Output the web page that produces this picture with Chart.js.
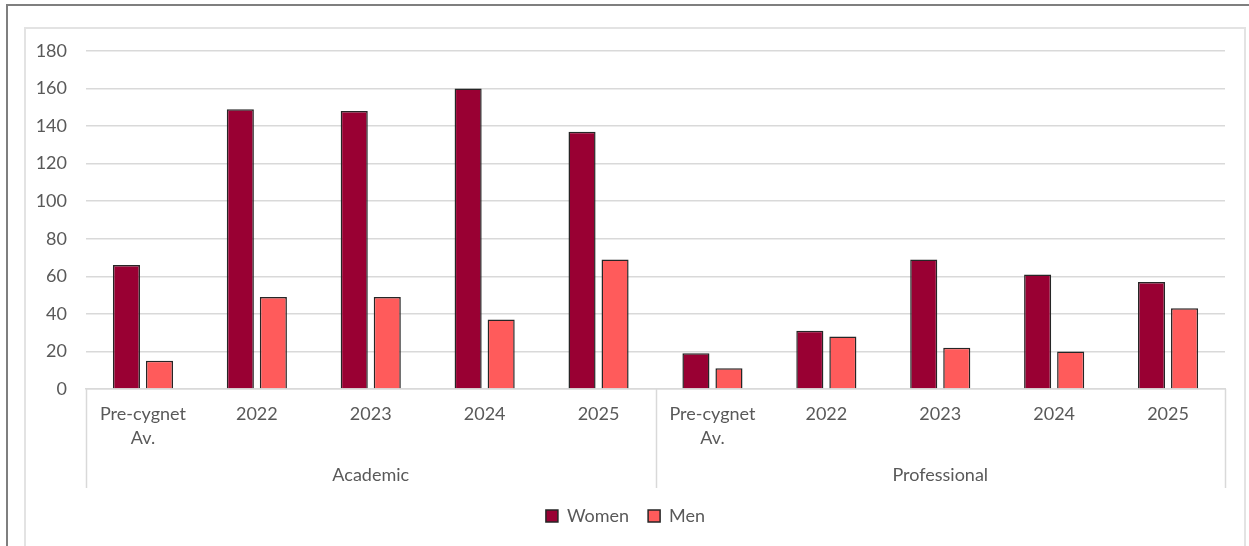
<!DOCTYPE html>
<html>
<head>
<meta charset="utf-8">
<script src="https://cdn.jsdelivr.net/npm/chart.js@4"></script>
<style>
  html, body { margin: 0; padding: 0; background: #fff; }
  body { width: 1249px; height: 546px; overflow: hidden; position: relative; }
  .frame { position: absolute; left: 6px; top: 4px; right: -10px; bottom: -10px;
    border-left: 2px solid #7f7f7f; border-top: 2px solid #7f7f7f; }
  .box { position: absolute; left: 24px; top: 27px; width: 1222px; height: 530px;
    border: 2px solid #e3e3e3; box-sizing: border-box; }
  .wrap { position: absolute; left: 26px; top: 29px; width: 1220px; height: 517px; }
</style>
</head>
<body>
<div class="frame"></div>
<div class="box"></div>
<div class="wrap"><canvas id="chart"></canvas></div>
<script>
var groups = ["Academic", "Professional"];
var categories = [["Pre-cygnet", "Av."], "2022", "2023", "2024", "2025",
                  ["Pre-cygnet", "Av."], "2022", "2023", "2024", "2025"];
var women = [66, 149, 148, 160, 137, 19, 31, 69, 61, 57];
var men = [15, 49, 49, 37, 69, 11, 28, 22, 20, 43];
var yTicks = { min: 0, max: 180, step: 20 };

var textColor = "#595959";
var font = { family: "Lato, 'Open Sans', sans-serif", size: 18, lineHeight: 1.33 };

// lines between the two groups under the x axis
var groupLines = {
  id: "groupLines",
  afterDraw: function (chart) {
    var x = chart.scales.x, x2 = chart.scales.x2;
    var ctx = chart.ctx;
    var per = categories.length / groups.length;
    var xs = [x.left];
    for (var g = 1; g < groups.length; g++) {
      xs.push((x.getPixelForValue(g * per - 1) + x.getPixelForValue(g * per)) / 2);
    }
    xs.push(x.right);
    ctx.save();
    ctx.strokeStyle = "#d9d9d9";
    ctx.lineWidth = 1.5;
    xs.forEach(function (px) {
      ctx.beginPath();
      ctx.moveTo(Math.round(px) + 0.5, chart.chartArea.bottom);
      ctx.lineTo(Math.round(px) + 0.5, x2.bottom);
      ctx.stroke();
    });
    ctx.restore();
  }
};

document.addEventListener("DOMContentLoaded", function () {
  var ctx = document.getElementById("chart").getContext("2d");
  new Chart(ctx, {
    type: "bar",
    data: {
      labels: categories,
      datasets: [
        {
          label: "Women",
          data: women,
          backgroundColor: "#990033",
          borderColor: "#262626",
          borderWidth: 1.5,
        },
        {
          label: "Men",
          data: men,
          backgroundColor: "#ff5b5b",
          borderColor: "#262626",
          borderWidth: 1.5,
        },
      ],
    },
    options: {
      responsive: true,
      maintainAspectRatio: false,
      animation: false,
      categoryPercentage: 0.58,
      barPercentage: 0.82,
      layout: { padding: { top: 22, right: 21, left: 0, bottom: 11 } },
      plugins: {
        tooltip: { enabled: false },
        legend: {
          position: "bottom",
          labels: {
            color: textColor,
            font: font,
            boxWidth: 12,
            boxHeight: 12,
            padding: 19,
          },
        },
      },
      scales: {
        x: {
          grid: { display: false, drawTicks: false },
          border: { color: "#d9d9d9", width: 1.5 },
          ticks: {
            color: textColor,
            font: font,
            padding: 13,
            maxRotation: 0,
            autoSkip: false,
          },
          afterFit: function (s) { s.height = 62; },
        },
        x2: {
          type: "category",
          labels: groups,
          position: "bottom",
          grid: { display: false, drawTicks: false },
          border: { display: false },
          ticks: { color: textColor, font: font, padding: 12 },
          afterFit: function (s) { s.height = 37; },
        },
        y: {
          min: yTicks.min,
          max: yTicks.max,
          grid: { color: "#d9d9d9", lineWidth: 1.5, drawTicks: false },
          border: { display: false },
          ticks: {
            stepSize: yTicks.step,
            color: textColor,
            font: font,
            padding: 19,
          },
          afterFit: function (s) {
            s.width = 60;
            s.paddingTop = 12;
            s.paddingBottom = 12;
          },
        },
      },
    },
    plugins: [groupLines],
  });
});
</script>
</body>
</html>
